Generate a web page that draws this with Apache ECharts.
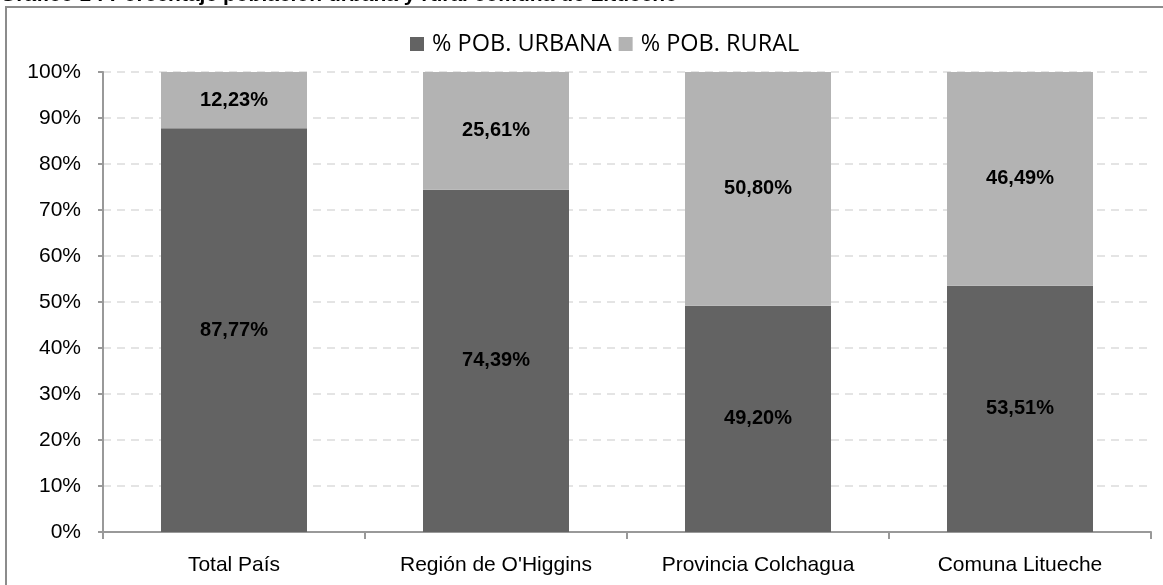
<!DOCTYPE html>
<html>
<head>
<meta charset="utf-8">
<script src="https://cdn.jsdelivr.net/npm/echarts@6/dist/echarts.min.js"></script>
<style>
html,body{margin:0;padding:0;background:#fff;}
#c{width:1163px;height:585px;}
</style>
</head>
<body>
<div id="c"></div>
<script>
const categories = ['Total País', "Región de O'Higgins", 'Provincia Colchagua', 'Comuna Litueche'];
const urbana = [87.77, 74.39, 49.20, 53.51];
const rural = [12.23, 25.61, 50.80, 46.49];
const seriesNames = ['% POB. URBANA', '% POB. RURAL'];
const titleText = 'Gráfico 1 : Porcentaje población urbana y rural comuna de Litueche';

const fmt = v => v.toFixed(2).replace('.', ',') + '%';
const chart = echarts.init(document.getElementById('c'), null, {renderer: 'canvas'});
const labelStyle = {
  show: true, position: 'inside', color: '#000', fontWeight: 'bold',
  fontFamily: '"Liberation Sans", Arial, sans-serif', fontSize: 20,
  formatter: p => fmt(p.value)
};
chart.setOption({
  animation: false,
  backgroundColor: '#fff',
  graphic: [
    {type: 'rect', shape: {x: 6, y: 7, width: 1170, height: 600}, style: {fill: 'none', stroke: '#8c8c8c', lineWidth: 2}, silent: true, z: -1},
    {type: 'text', left: 0, top: -15, style: {text: titleText, fill: '#000', font: 'bold 21px "Liberation Sans", Arial, sans-serif'}}
  ],
  legend: {
    top: 27, left: 405,
    itemWidth: 14, itemHeight: 14, itemGap: 7,
    icon: 'rect',
    textStyle: {fontFamily: '"Open Sans", sans-serif', fontSize: 23.5, color: '#000', padding: [0, 0, 0, 3]},
    data: seriesNames
  },
  grid: {left: 103, right: 12, top: 72, bottom: 53, containLabel: false},
  xAxis: {
    type: 'category', data: categories,
    axisLine: {lineStyle: {color: '#999', width: 2}},
    axisTick: {show: true, length: 7, lineStyle: {color: '#999', width: 2}},
    axisLabel: {color: '#000', fontFamily: '"Liberation Sans", Arial, sans-serif', fontSize: 21, margin: 23}
  },
  yAxis: {
    type: 'value', min: 0, max: 100, interval: 10,
    axisLine: {show: true, lineStyle: {color: '#999', width: 2}},
    axisTick: {show: true, length: 5, lineStyle: {color: '#999', width: 2}},
    axisLabel: {color: '#000', fontFamily: '"Liberation Sans", Arial, sans-serif', fontSize: 21, margin: 22, formatter: '{value}%'},
    splitLine: {show: true, lineStyle: {color: '#dcdcdc', type: [8, 6], width: 1.5}}
  },
  series: [
    {name: seriesNames[0], type: 'bar', stack: 'a', data: urbana, barWidth: 146,
     itemStyle: {color: '#636363'}, label: labelStyle},
    {name: seriesNames[1], type: 'bar', stack: 'a', data: rural, barWidth: 146,
     itemStyle: {color: '#b3b3b3'}, label: labelStyle}
  ]
});
</script>
</body>
</html>
